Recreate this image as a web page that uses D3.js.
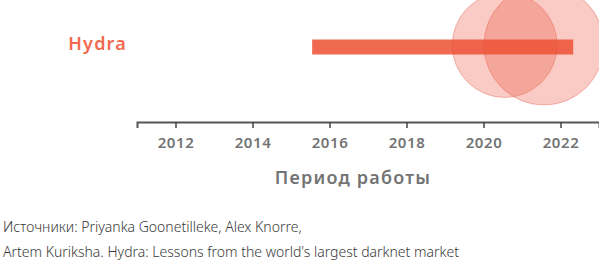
<!DOCTYPE html>
<html>
<head>
<meta charset="utf-8">
<script src="https://cdn.jsdelivr.net/npm/d3@7"></script>
<style>
  body { margin: 0; background: #fff; }
  svg { display: block; font-family: 'Noto Sans', sans-serif; }
</style>
</head>
<body>
<svg></svg>
<script>
let markets = ['Hydra']
let startYears = [2015.55]
let endYears = [2022.33]

// revenue bubbles, billion USD
let revenueYears = [2020.55, 2021.57]
let revenueValues = [1.37, 1.79]

let tickYears = [2012, 2014, 2016, 2018, 2020, 2022]
let sourceLines = [
  'Источники: Priyanka Goonetilleke, Alex Knorre,',
  "Artem Kuriksha. Hydra: Lessons from the world's largest darknet market"
]

let width = 599
let height = 274
let axisY = 122

let svg = d3.select('svg')
  .attr('width', width)
  .attr('height', height)

let xScale = d3.scaleLinear()
  .domain([2011, 2023])
  .range([137, 599])

let yScale = d3.scaleBand()
  .domain(markets)
  .range([20, 74])

let rScale = d3.scaleSqrt()
  .domain([0, d3.max(revenueValues)])
  .range([0, 60])

let barHeight = 15

// bars
svg.selectAll('rect.bar')
  .data(markets)
  .enter()
  .append('rect')
  .attr('class', 'bar')
  .attr('x', (d, i) => xScale(startYears[i]))
  .attr('width', (d, i) => xScale(endYears[i]) - xScale(startYears[i]))
  .attr('y', d => yScale(d) + yScale.bandwidth() / 2 - barHeight / 2)
  .attr('height', barHeight)
  .attr('fill', '#ef6a50')

// bubbles over the bar
svg.selectAll('circle')
  .data(revenueValues)
  .enter()
  .append('circle')
  .attr('cx', (d, i) => xScale(revenueYears[i]))
  .attr('cy', yScale('Hydra') + yScale.bandwidth() / 2 - 2)
  .attr('r', d => rScale(d))
  .attr('fill', 'rgba(234, 82, 58, 0.3)')
  .attr('stroke', 'rgba(228, 80, 60, 0.35)')
  .attr('stroke-width', 1)

// market labels
svg.selectAll('text.label')
  .data(markets)
  .enter()
  .append('text')
  .attr('class', 'label')
  .attr('x', 127)
  .attr('y', d => yScale(d) + yScale.bandwidth() / 2 - 3)
  .attr('dy', '0.35em')
  .attr('text-anchor', 'end')
  .attr('fill', '#f26a4f')
  .style('font-size', '18px')
  .style('font-weight', 600)
  .style('letter-spacing', '1.2px')
  .text(d => d)

// axis
let xAxis = d3.axisBottom(xScale)
  .tickValues(tickYears)
  .tickFormat(d3.format('d'))
  .tickSize(6)
  .tickPadding(9)

let axisG = svg.append('g')
  .attr('transform', 'translate(0,' + axisY + ')')
  .call(xAxis)

axisG.select('.domain')
  .attr('stroke', '#555')
  .attr('stroke-width', 2)
axisG.selectAll('.tick line')
  .attr('stroke', '#444')
  .attr('stroke-width', 1.5)
axisG.selectAll('.tick text')
  .attr('fill', '#737373')
  .style('font-size', '15px')
  .style('font-weight', 600)
  .style('letter-spacing', '0.6px')
  .style('font-family', "'Noto Sans', sans-serif")

svg.append('text')
  .attr('x', 353)
  .attr('y', 184)
  .attr('text-anchor', 'middle')
  .attr('fill', '#737373')
  .style('font-size', '18px')
  .style('font-weight', 600)
  .style('letter-spacing', '1.2px')
  .text('Период работы')

// source
svg.selectAll('text.source')
  .data(sourceLines)
  .enter()
  .append('text')
  .attr('class', 'source')
  .attr('x', 3)
  .attr('y', (d, i) => 232 + i * 25)
  .attr('fill', '#3a3a3a')
  .style('font-size', '14px')
  .style('font-weight', 300)
  .text(d => d)
</script>
</body>
</html>
